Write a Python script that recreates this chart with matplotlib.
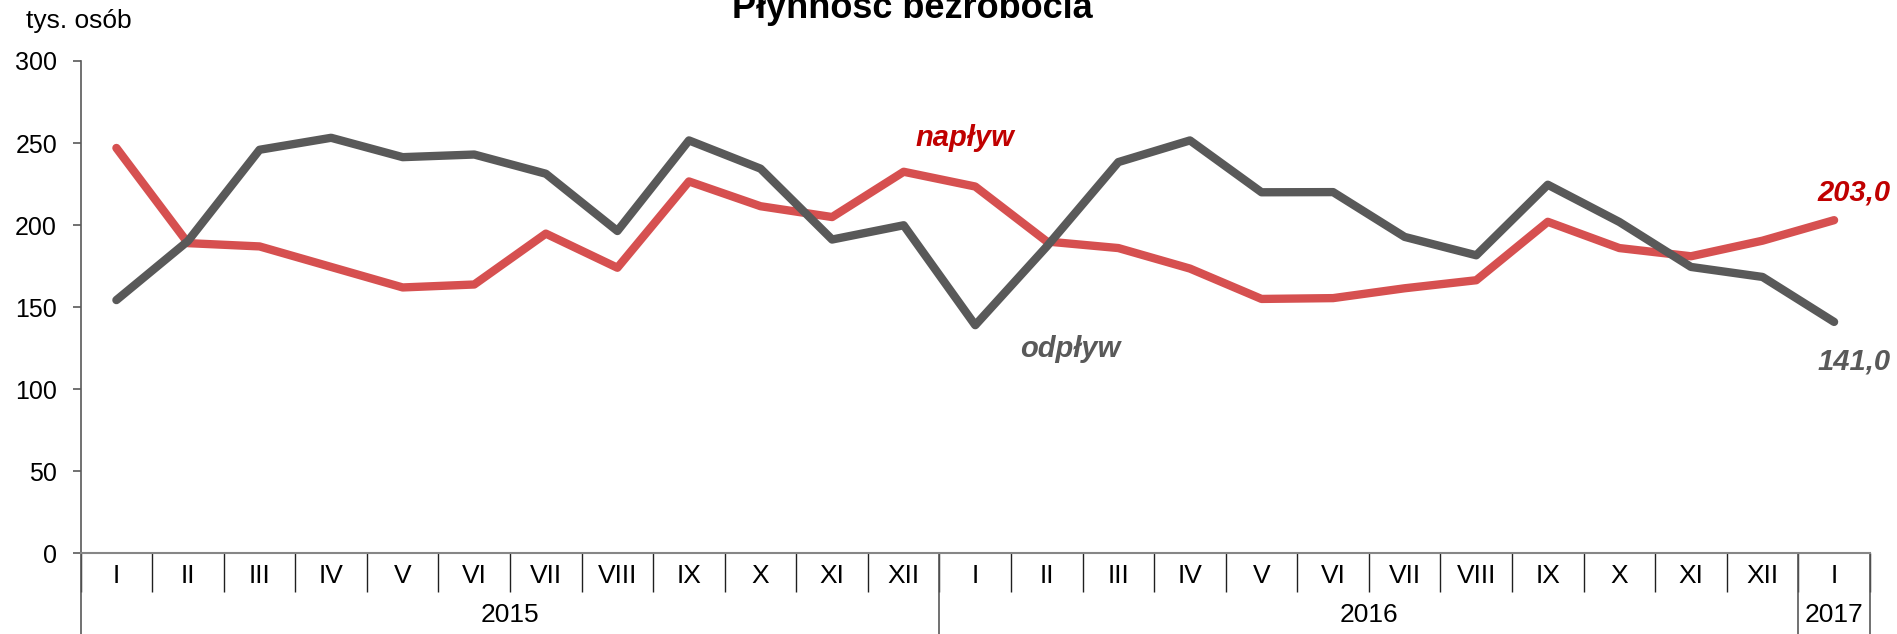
import matplotlib
matplotlib.use("Agg")
import matplotlib.pyplot as plt

plt.rcParams['font.family'] = ['Liberation Sans', 'DejaVu Sans']

# dane (tys. osób)
months = ["I", "II", "III", "IV", "V", "VI", "VII", "VIII", "IX", "X", "XI", "XII",
          "I", "II", "III", "IV", "V", "VI", "VII", "VIII", "IX", "X", "XI", "XII",
          "I"]
years = ["2015", "2016", "2017"]
year_len = [12, 12, 1]
naplyw = [247, 189, 187, 174.5, 162, 163.8, 194.8, 174, 226.6, 211.5, 204.9, 232.5,
          223.5, 190, 186, 173.5, 155, 155.5, 161.5, 166.4, 202, 186, 181, 190.5,
          203.0]
odplyw = [154.3, 190.3, 245.9, 253.2, 241.4, 243, 231.3, 196.4, 251.6, 234.4, 191.2, 199.9,
          139, 187, 238.4, 251.6, 220, 220.1, 192.8, 181.6, 224.6, 201.9, 174.5, 168.4,
          141.0]

red = '#D65050'
red_txt = '#C00000'
grey = '#595959'

fig = plt.figure(figsize=(18.97, 6.34), dpi=100)
ax = fig.add_axes([0.0425, 0.1273, 0.9432, 0.7765])

x = [i + 0.5 for i in range(len(months))]
ax.plot(x, naplyw, color=red, lw=6, solid_capstyle='round', zorder=3)
ax.plot(x, odplyw, color=grey, lw=6, solid_capstyle='round', zorder=3)

ax.set_xlim(0, len(months))
ax.set_ylim(0, 300)
ax.set_yticks(range(0, 301, 50))
ax.tick_params(axis='y', direction='out', length=6, width=1.2, color=grey,
               labelsize=18, pad=11)

ax.spines['top'].set_visible(False)
ax.spines['right'].set_visible(False)
ax.spines['left'].set_color(grey)
ax.spines['left'].set_linewidth(1.2)
ax.spines['bottom'].set_color('#868686')
ax.spines['bottom'].set_linewidth(1.5)

# etykiety miesięcy
ax.set_xticks(x)
ax.set_xticklabels(months)
ax.set_xticks(range(len(months) + 1), minor=True)
ax.tick_params(axis='x', which='major', length=0, labelsize=19, pad=8)
ax.tick_params(axis='x', which='minor', direction='out', length=28, width=1, color='#202020')

# lata i separatory lat
tr = ax.get_xaxis_transform()
start = 0
for y, n in zip(years, year_len):
    ax.text(start + n / 2, -0.125, y, transform=tr, ha='center', va='center', fontsize=19)
    ax.plot([start, start], [0, -0.17], transform=tr, color=grey, lw=1.2, clip_on=False)
    start += n
ax.plot([start, start], [0, -0.17], transform=tr, color=grey, lw=1.2, clip_on=False)

# opisy serii
ax.text(12.35, 248.5, "napływ", color=red_txt, fontsize=21, weight='bold', style='italic', ha='center')
ax.text(13.83, 119.5, "odpływ", color=grey, fontsize=21, weight='bold', style='italic', ha='center')
ax.text(len(months) - 0.22, naplyw[-1] + 12, "203,0", color=red_txt, fontsize=21,
        weight='bold', style='italic', ha='center')
ax.text(len(months) - 0.22, odplyw[-1] - 29, "141,0", color=grey, fontsize=21,
        weight='bold', style='italic', ha='center')

fig.text(26 / 1897, 1 - 28 / 634, "tys. osób", fontsize=19, ha='left', va='baseline')
fig.text(912 / 1897, 1 - 18 / 634, "Płynność bezrobocia", fontsize=26, weight='bold',
         ha='center', va='baseline')

fig.savefig("out.png", dpi=100)
